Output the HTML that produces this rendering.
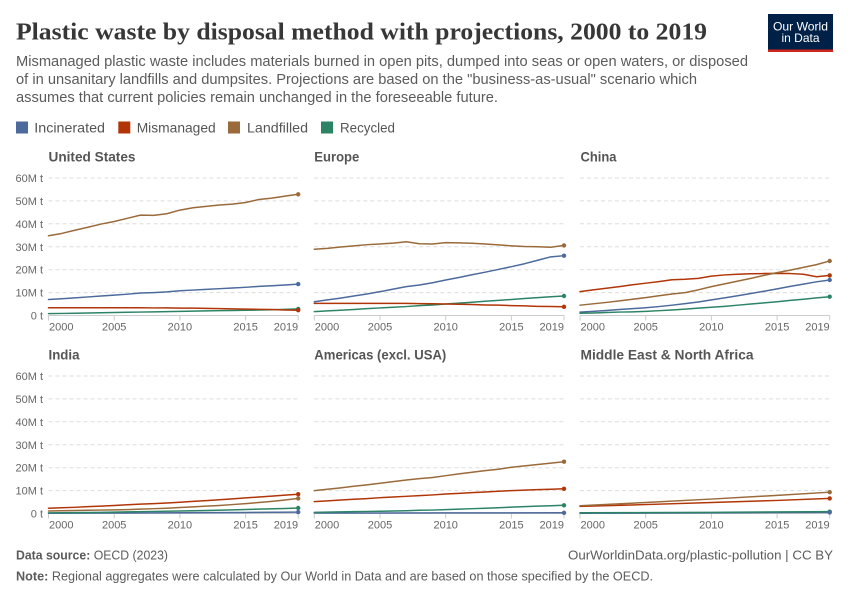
<!DOCTYPE html>
<html><head><meta charset="utf-8">
<style>
html,body{margin:0;padding:0;background:#fff;}
svg{display:block;font-family:"Liberation Sans",sans-serif;}
.ser{fill:none;stroke-width:1.5;stroke-linejoin:round;stroke-linecap:round;vector-effect:non-scaling-stroke;}
.ax{stroke:#ccc;stroke-width:1;}
.grid{stroke:#ddd;stroke-width:1;stroke-dasharray:4,3;}
.yl{font-size:11px;fill:#666;text-anchor:end;}
.xl{font-size:11px;fill:#666;}
.pt{font-size:13.5px;font-weight:bold;fill:#555;}
</style></head><body>
<svg width="850" height="600" viewBox="0 0 850 600" xmlns="http://www.w3.org/2000/svg">
<rect width="850" height="600" fill="#fff"/>
<!-- Title -->
<text x="16" y="39.5" font-family="'Liberation Serif',serif" font-size="24" font-weight="bold" fill="#373737" textLength="691" lengthAdjust="spacingAndGlyphs">Plastic waste by disposal method with projections, 2000 to 2019</text>
<text x="16" y="66" font-size="14.5" fill="#5b5b5b" textLength="732" lengthAdjust="spacingAndGlyphs">Mismanaged plastic waste includes materials burned in open pits, dumped into seas or open waters, or disposed</text>
<text x="16" y="84" font-size="14.5" fill="#5b5b5b" textLength="681" lengthAdjust="spacingAndGlyphs">of in unsanitary landfills and dumpsites. Projections are based on the "business-as-usual" scenario which</text>
<text x="16" y="102" font-size="14.5" fill="#5b5b5b" textLength="482" lengthAdjust="spacingAndGlyphs">assumes that current policies remain unchanged in the foreseeable future.</text>
<!-- Logo -->
<rect x="768" y="14" width="65" height="35.5" fill="#002147"/>
<rect x="768" y="49.5" width="65" height="2.5" fill="#ce261e"/>
<text x="800.5" y="30.5" font-size="12" fill="#fff" text-anchor="middle" textLength="55" lengthAdjust="spacingAndGlyphs">Our World</text>
<text x="800.5" y="42" font-size="12" fill="#fff" text-anchor="middle">in Data</text>
<!-- Legend -->
<rect x="16" y="121.5" width="12" height="12" fill="#4c6a9c"/>
<text x="34.3" y="132.5" font-size="14" fill="#555" textLength="70.7" lengthAdjust="spacingAndGlyphs">Incinerated</text>
<rect x="118.3" y="121.5" width="12" height="12" fill="#b13507"/>
<text x="136.7" y="132.5" font-size="14" fill="#555" textLength="79" lengthAdjust="spacingAndGlyphs">Mismanaged</text>
<rect x="228" y="121.5" width="12" height="12" fill="#9a6a3a"/>
<text x="247" y="132.5" font-size="14" fill="#555" textLength="61" lengthAdjust="spacingAndGlyphs">Landfilled</text>
<rect x="321" y="121.5" width="12" height="12" fill="#2c8465"/>
<text x="340" y="132.5" font-size="14" fill="#555" textLength="55" lengthAdjust="spacingAndGlyphs">Recycled</text>

<!-- Panel titles -->
<text class="pt" x="48.5" y="161.5" textLength="87" lengthAdjust="spacingAndGlyphs">United States</text>
<text class="pt" x="314.3" y="161.5" textLength="45" lengthAdjust="spacingAndGlyphs">Europe</text>
<text class="pt" x="580.5" y="161.5" textLength="36" lengthAdjust="spacingAndGlyphs">China</text>
<text class="pt" x="48.5" y="359.5" textLength="31" lengthAdjust="spacingAndGlyphs">India</text>
<text class="pt" x="314.3" y="359.5" textLength="132" lengthAdjust="spacingAndGlyphs">Americas (excl. USA)</text>
<text class="pt" x="580.5" y="359.5" textLength="173" lengthAdjust="spacingAndGlyphs">Middle East &amp; North Africa</text>

<!-- Y labels top -->
<text class="yl" x="43" y="319.5">0 t</text>
<text class="yl" x="43" y="296.6">10M t</text>
<text class="yl" x="43" y="273.7">20M t</text>
<text class="yl" x="43" y="250.8">30M t</text>
<text class="yl" x="43" y="227.8">40M t</text>
<text class="yl" x="43" y="204.9">50M t</text>
<text class="yl" x="43" y="182">60M t</text>
<!-- Y labels bottom -->
<text class="yl" x="43" y="517.5">0 t</text>
<text class="yl" x="43" y="494.6">10M t</text>
<text class="yl" x="43" y="471.7">20M t</text>
<text class="yl" x="43" y="448.8">30M t</text>
<text class="yl" x="43" y="425.8">40M t</text>
<text class="yl" x="43" y="402.9">50M t</text>
<text class="yl" x="43" y="380">60M t</text>

<!-- Gridlines -->
<g class="grid">
<path d="M48.5 292.6H298.2M48.5 269.7H298.2M48.5 246.75H298.2M48.5 223.8H298.2M48.5 200.9H298.2M48.5 178H298.2"/>
<path d="M314.3 292.6H564M314.3 269.7H564M314.3 246.75H564M314.3 223.8H564M314.3 200.9H564M314.3 178H564"/>
<path d="M580 292.6H829.7M580 269.7H829.7M580 246.75H829.7M580 223.8H829.7M580 200.9H829.7M580 178H829.7"/>
<path d="M48.5 490.6H298.2M48.5 467.7H298.2M48.5 444.75H298.2M48.5 421.8H298.2M48.5 398.9H298.2M48.5 376H298.2"/>
<path d="M314.3 490.6H564M314.3 467.7H564M314.3 444.75H564M314.3 421.8H564M314.3 398.9H564M314.3 376H564"/>
<path d="M580 490.6H829.7M580 467.7H829.7M580 444.75H829.7M580 421.8H829.7M580 398.9H829.7M580 376H829.7"/>
</g>

<!-- Axes and ticks -->
<g class="ax" fill="none">
<path d="M48.5 315.5H298.2M48.5 315.5V320.5M114.2 315.5V320.5M179.9 315.5V320.5M245.6 315.5V320.5M298.2 315.5V320.5"/>
<path d="M314.3 315.5H564M314.3 315.5V320.5M380 315.5V320.5M445.7 315.5V320.5M511.4 315.5V320.5M564 315.5V320.5"/>
<path d="M580 315.5H829.7M580 315.5V320.5M645.7 315.5V320.5M711.4 315.5V320.5M777.1 315.5V320.5M829.7 315.5V320.5"/>
<path d="M48.5 513.5H298.2M48.5 513.5V518.5M114.2 513.5V518.5M179.9 513.5V518.5M245.6 513.5V518.5M298.2 513.5V518.5"/>
<path d="M314.3 513.5H564M314.3 513.5V518.5M380 513.5V518.5M445.7 513.5V518.5M511.4 513.5V518.5M564 513.5V518.5"/>
<path d="M580 513.5H829.7M580 513.5V518.5M645.7 513.5V518.5M711.4 513.5V518.5M777.1 513.5V518.5M829.7 513.5V518.5"/>
</g>

<!-- X labels -->
<g class="xl">
<text x="49" y="330.5">2000</text><text x="114.2" y="330.5" text-anchor="middle">2005</text><text x="179.9" y="330.5" text-anchor="middle">2010</text><text x="245.6" y="330.5" text-anchor="middle">2015</text><text x="298.2" y="330.5" text-anchor="end">2019</text>
<text x="314.8" y="330.5">2000</text><text x="380" y="330.5" text-anchor="middle">2005</text><text x="445.7" y="330.5" text-anchor="middle">2010</text><text x="511.4" y="330.5" text-anchor="middle">2015</text><text x="564" y="330.5" text-anchor="end">2019</text>
<text x="580.5" y="330.5">2000</text><text x="645.7" y="330.5" text-anchor="middle">2005</text><text x="711.4" y="330.5" text-anchor="middle">2010</text><text x="777.1" y="330.5" text-anchor="middle">2015</text><text x="829.7" y="330.5" text-anchor="end">2019</text>
<text x="49" y="528.5">2000</text><text x="114.2" y="528.5" text-anchor="middle">2005</text><text x="179.9" y="528.5" text-anchor="middle">2010</text><text x="245.6" y="528.5" text-anchor="middle">2015</text><text x="298.2" y="528.5" text-anchor="end">2019</text>
<text x="314.8" y="528.5">2000</text><text x="380" y="528.5" text-anchor="middle">2005</text><text x="445.7" y="528.5" text-anchor="middle">2010</text><text x="511.4" y="528.5" text-anchor="middle">2015</text><text x="564" y="528.5" text-anchor="end">2019</text>
<text x="580.5" y="528.5">2000</text><text x="645.7" y="528.5" text-anchor="middle">2005</text><text x="711.4" y="528.5" text-anchor="middle">2010</text><text x="777.1" y="528.5" text-anchor="middle">2015</text><text x="829.7" y="528.5" text-anchor="end">2019</text>
</g>

<!-- US -->
<g transform="translate(48.5,315.5) scale(13.142,-2.2917)">
<polyline class="ser" stroke="#4c6a9c" points="0,7 1,7.3 2,7.7 3,8.1 4,8.5 5,8.9 6,9.3 7,9.8 8,10 9,10.3 10,10.8 11,11.1 12,11.4 13,11.7 14,12 15,12.3 16,12.7 17,13 18,13.3 19,13.7"/>
<polyline class="ser" stroke="#2c8465" points="0,0.8 1,0.9 2,1 3,1.1 4,1.2 5,1.3 6,1.4 7,1.5 8,1.6 9,1.7 10,1.8 11,1.9 12,2 13,2.1 14,2.2 15,2.3 16,2.4 17,2.5 18,2.7 19,2.9"/>
<polyline class="ser" stroke="#b13507" points="0,3.4 7,3.4 8,3.3 9,3.3 10,3.2 11,3.2 12,3.1 13,3 14,2.9 15,2.8 16,2.7 17,2.6 18,2.4 19,2.3"/>
<polyline class="ser" stroke="#9a6a3a" points="0,34.8 1,35.8 2,37.2 3,38.5 4,39.9 5,41 6,42.4 7,43.8 8,43.7 9,44.4 10,46 11,47 12,47.6 13,48.2 14,48.6 15,49.3 16,50.6 17,51.2 18,52.1 19,52.9"/>
</g>
<!-- Europe -->
<g transform="translate(314.3,315.5) scale(13.142,-2.2917)">
<polyline class="ser" stroke="#4c6a9c" points="0,6 1,6.8 2,7.6 3,8.5 4,9.4 5,10.4 6,11.5 7,12.6 8,13.3 9,14.3 10,15.5 11,16.6 12,17.8 13,18.9 14,20.1 15,21.3 16,22.6 17,24.1 18,25.6 19,26.1"/>
<polyline class="ser" stroke="#2c8465" points="0,1.7 1,2 2,2.3 3,2.6 4,3 5,3.3 6,3.6 7,3.9 8,4.3 9,4.6 10,5 11,5.4 12,5.8 13,6.2 14,6.6 15,7 16,7.4 17,7.8 18,8.2 19,8.5"/>
<polyline class="ser" stroke="#b13507" points="0,5.3 7,5.3 8,5.2 9,5.1 10,5 11,4.9 12,4.8 13,4.6 14,4.5 15,4.3 16,4.2 17,4 18,3.9 19,3.8"/>
<polyline class="ser" stroke="#9a6a3a" points="0,28.9 1,29.3 2,29.9 3,30.4 4,30.9 5,31.2 6,31.6 7,32.2 8,31.3 9,31.2 10,31.8 11,31.7 12,31.5 13,31.2 14,30.8 15,30.4 16,30.1 17,30 18,29.8 19,30.6"/>
</g>
<!-- China -->
<g transform="translate(580,315.5) scale(13.142,-2.2917)">
<polyline class="ser" stroke="#4c6a9c" points="0,1.5 1,1.8 2,2.2 3,2.6 4,3 5,3.4 6,3.9 7,4.5 8,5.2 9,5.9 10,6.8 11,7.7 12,8.6 13,9.6 14,10.6 15,11.6 16,12.7 17,13.7 18,14.7 19,15.5"/>
<polyline class="ser" stroke="#2c8465" points="0,1 1,1.1 2,1.3 3,1.5 4,1.6 5,1.8 6,2.1 7,2.4 8,2.8 9,3.2 10,3.6 11,4 12,4.5 13,5 14,5.5 15,6 16,6.6 17,7.1 18,7.7 19,8.2"/>
<polyline class="ser" stroke="#b13507" points="0,10.4 1,11.2 2,11.9 3,12.6 4,13.4 5,14.1 6,14.8 7,15.6 8,15.8 9,16.2 10,17.2 11,17.7 12,18 13,18.2 14,18.3 15,18.4 16,18.3 17,18 18,16.9 19,17.5"/>
<polyline class="ser" stroke="#9a6a3a" points="0,4.5 1,5.1 2,5.7 3,6.4 4,7.1 5,7.8 6,8.6 7,9.4 8,10 9,11.2 10,12.6 11,13.8 12,15 13,16.2 14,17.5 15,18.7 16,19.8 17,21 18,22.2 19,23.8"/>
</g>
<!-- India -->
<g transform="translate(48.5,513.5) scale(13.142,-2.2917)">
<polyline class="ser" stroke="#4c6a9c" points="0,0.1 5,0.2 10,0.3 15,0.45 19,0.6"/>
<polyline class="ser" stroke="#2c8465" points="0,0.3 2,0.4 4,0.5 6,0.7 8,0.9 10,1.1 12,1.3 14,1.6 16,1.9 18,2.2 19,2.4"/>
<polyline class="ser" stroke="#b13507" points="0,2.3 1,2.5 2,2.7 3,3 4,3.2 5,3.5 6,3.8 7,4.1 8,4.3 9,4.6 10,4.9 11,5.3 12,5.6 13,6 14,6.4 15,6.8 16,7.2 17,7.6 18,8 19,8.4"/>
<polyline class="ser" stroke="#9a6a3a" points="0,1.1 1,1.2 2,1.3 3,1.4 4,1.5 5,1.6 6,1.7 7,1.9 8,2.1 9,2.3 10,2.6 11,2.9 12,3.2 13,3.5 14,3.9 15,4.3 16,4.8 17,5.3 18,5.9 19,6.6"/>
</g>
<!-- Americas -->
<g transform="translate(314.3,513.5) scale(13.142,-2.2917)">
<polyline class="ser" stroke="#4c6a9c" points="0,0.2 10,0.25 19,0.3"/>
<polyline class="ser" stroke="#2c8465" points="0,0.5 1,0.6 2,0.7 3,0.8 4,0.9 5,1 6,1.1 7,1.2 8,1.4 9,1.5 10,1.7 11,1.9 12,2.1 13,2.3 14,2.5 15,2.8 16,3 17,3.2 18,3.4 19,3.6"/>
<polyline class="ser" stroke="#b13507" points="0,5.2 1,5.5 2,5.9 3,6.2 4,6.5 5,6.9 6,7.2 7,7.5 8,7.8 9,8.1 10,8.5 11,8.8 12,9.1 13,9.4 14,9.7 15,10 16,10.2 17,10.4 18,10.6 19,10.8"/>
<polyline class="ser" stroke="#9a6a3a" points="0,10 1,10.6 2,11.2 3,11.9 4,12.5 5,13.2 6,13.9 7,14.6 8,15.2 9,15.7 10,16.5 11,17.3 12,18 13,18.7 14,19.3 15,20.2 16,20.8 17,21.4 18,22 19,22.6"/>
</g>
<!-- MENA -->
<g transform="translate(580,513.5) scale(13.142,-2.2917)">
<polyline class="ser" stroke="#4c6a9c" points="0,0.1 10,0.25 19,0.5"/>
<polyline class="ser" stroke="#2c8465" points="0,0.3 10,0.5 19,0.8"/>
<polyline class="ser" stroke="#b13507" points="0,3.1 5,3.9 10,4.8 15,5.7 19,6.6"/>
<polyline class="ser" stroke="#9a6a3a" points="0,3.4 5,4.8 10,6.3 15,7.9 19,9.3"/>
</g>

<!-- End markers -->
<g>
<circle cx="298.2" cy="194.3" r="2.2" fill="#9a6a3a"/><circle cx="298.2" cy="284.1" r="2.2" fill="#4c6a9c"/><circle cx="298.2" cy="308.9" r="2.2" fill="#2c8465"/><circle cx="298.2" cy="310.2" r="2.2" fill="#b13507"/>
<circle cx="564" cy="245.4" r="2.2" fill="#9a6a3a"/><circle cx="564" cy="255.7" r="2.2" fill="#4c6a9c"/><circle cx="564" cy="306.8" r="2.2" fill="#b13507"/><circle cx="564" cy="296" r="2.2" fill="#2c8465"/>
<circle cx="829.7" cy="261" r="2.2" fill="#9a6a3a"/><circle cx="829.7" cy="275.4" r="2.2" fill="#b13507"/><circle cx="829.7" cy="280" r="2.2" fill="#4c6a9c"/><circle cx="829.7" cy="296.7" r="2.2" fill="#2c8465"/>
<circle cx="298.2" cy="494.2" r="2.2" fill="#b13507"/><circle cx="298.2" cy="498.4" r="2.2" fill="#9a6a3a"/><circle cx="298.2" cy="508" r="2.2" fill="#2c8465"/><circle cx="298.2" cy="512.1" r="2.2" fill="#4c6a9c"/>
<circle cx="564" cy="461.7" r="2.2" fill="#9a6a3a"/><circle cx="564" cy="488.8" r="2.2" fill="#b13507"/><circle cx="564" cy="505.3" r="2.2" fill="#2c8465"/><circle cx="564" cy="512.8" r="2.2" fill="#4c6a9c"/>
<circle cx="829.7" cy="492.2" r="2.2" fill="#9a6a3a"/><circle cx="829.7" cy="498.4" r="2.2" fill="#b13507"/><circle cx="829.7" cy="511.7" r="2.2" fill="#2c8465"/><circle cx="829.7" cy="512.4" r="2.2" fill="#4c6a9c"/>
</g>

<!-- Footer -->
<text x="16" y="559.5" font-size="12.5" fill="#5b5b5b" textLength="152" lengthAdjust="spacingAndGlyphs"><tspan font-weight="bold">Data source:</tspan> OECD (2023)</text>
<text x="833" y="559.5" font-size="12.5" fill="#5b5b5b" text-anchor="end" textLength="265" lengthAdjust="spacingAndGlyphs">OurWorldinData.org/plastic-pollution | CC BY</text>
<text x="16" y="580.5" font-size="12.5" fill="#5b5b5b" textLength="637" lengthAdjust="spacingAndGlyphs"><tspan font-weight="bold">Note:</tspan> Regional aggregates were calculated by Our World in Data and are based on those specified by the OECD.</text>
</svg>
</body></html>
